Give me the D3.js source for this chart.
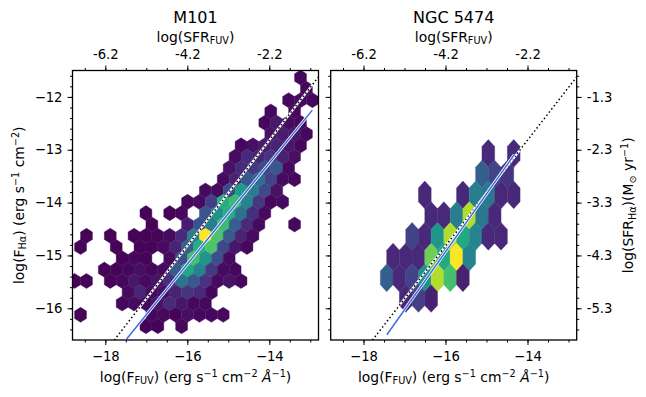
<!DOCTYPE html>
<html>
<head>
<meta charset="utf-8">
<script src="https://cdn.jsdelivr.net/npm/d3@7"></script>
<style>
  html, body { margin: 0; padding: 0; background: #fff; }
  svg { display: block; }
  text { font-family: "DejaVu Sans", sans-serif; fill: #000; }
  .axis text { font-size: 13.2px; }
  .lab { font-size: 13.9px; }
  .sub { font-size: 9.7px; }
</style>
</head>
<body>
<svg id="chart" width="646" height="397"></svg>
<script>
// hexbin cells: each row is [first column, counts...], 0 = empty cell (counts on a 0-100 scale)
const m101Rows = [
  [19, 2],
  [19, 2],
  [18, 2, 3, 2],
  [16, 2, 0, 2],
  [16, 2, 7, 3, 2],
  [16, 5, 8, 6, 2],
  [14, 2, 4, 8, 10, 6, 2],
  [13, 3, 12, 10, 15, 9, 4],
  [13, 4, 12, 16, 22, 27, 3],
  [12, 3, 10, 27, 36, 20, 3, 2],
  [11, 3, 3, 22, 55, 42, 22, 5],
  [9, 2, 3, 18, 62, 68, 45, 16, 2, 3],
  [6, 1, 0, 1, 2, 0, 25, 50, 62, 38, 14, 3],
  [6, 1, 0, 0, 8, 25, 42, 68, 30, 12, 3, 0, 0, 2],
  [1, 1, 0, 1, 0, 1, 1, 1, 3, 12, 42, 100, 72, 28, 10, 3],
  [0, 1, 0, 0, 1, 0, 1, 1, 3, 10, 30, 62, 72, 22, 6, 2],
  [4, 1, 2, 1, 0, 3, 24, 70, 52, 24, 3],
  [2, 1, 1, 2, 4, 2, 3, 28, 60, 45, 17, 3, 2],
  [0, 1, 1, 0, 1, 2, 6, 3, 5, 14, 38, 28, 15, 3, 5, 2],
  [4, 3, 10, 3, 4, 10, 15, 12, 2],
  [4, 2, 3, 2, 5, 12, 6, 2, 2],
  [0, 1, 0, 0, 0, 0, 0, 2, 2, 1, 4, 2, 2, 2],
  [6, 1, 1, 0, 2]
];
const ngcRows = [
  [8, 12, 0, 12],
  [7, 30, 20, 15],
  [3, 11, 0, 0, 11, 42, 40, 11, 11],
  [3, 11, 11, 42, 88, 40, 11],
  [2, 20, 11, 52, 88, 60, 45, 11, 11],
  [0, 11, 11, 11, 78, 60, 100, 45],
  [0, 30, 11, 20, 50, 88, 70, 9],
  [1, 11, 18, 9]
];

// hexbin lattice, in data units
const m101Grid = { x0: -18.749, xStep: 0.29, y0: -11.634, yStep: 0.2138 };
const ngcGrid = { x0: -17.434, xStep: 0.3098, y0: -13.068, yStep: 0.3925 };

// dotted 1:1 relation and the two fitted lines
const unityX = [-18.8, -12.8];
const unityY = [-17.62, -11.62];
const m101FitX = [-17.48, -12.95];
const m101FitY = [-16.58, -12.25];
const ngcFitX = [-17.43, -14.32];
const ngcFitY = [-16.5, -13.09];

const fuvTicks = [-18, -16, -14];
const fuvMinor = d3.range(-18.5, -12.8, 0.5);
const haTicks = [-12, -13, -14, -15, -16];
const haMinor = d3.range(-16.4, -11.5, 0.2);
const sfrFuvTicks = [-6.2, -4.2, -2.2];
const sfrHaTicks = [-1.3, -2.3, -3.3, -4.3, -5.3];

const xDomain = [-18.8, -12.8];
const yDomain = [-16.6, -11.5];
const sfrFuvOffset = 11.8;
const sfrHaOffset = 10.7;

const plotTop = 70.5, plotBottom = 340;
const svg = d3.select('#chart');

const y = d3.scaleLinear().domain(yDomain).range([plotBottom, plotTop]);
const ySfr = d3.scaleLinear().domain(yDomain.map(d => d + sfrHaOffset)).range([plotBottom, plotTop]);
const color = c => d3.interpolateViridis(c / 100);

function minus(v) {
  return String(v).replace('-', '\u2212');
}

// label with sub/superscripts: parts are [text, 'sub' | 'sup' | 'it' | undefined]
function richText(sel, parts) {
  let shift = 0;
  parts.forEach(([txt, kind]) => {
    const want = kind === 'sub' ? 2.5 : kind === 'sup' ? -5 : 0;
    const t = sel.append('tspan').attr('dy', want - shift).text(txt);
    if (kind === 'sub' || kind === 'sup') t.attr('class', 'sub');
    if (kind === 'it') t.style('font-style', 'italic');
    shift = want;
  });
  return sel;
}

const fuvLabel = [['log(F'], ['FUV', 'sub'], [') (erg s'], ['\u22121', 'sup'], [' cm'], ['\u22122', 'sup'],
  [' '], ['\u00c5', 'it'], ['\u22121', 'sup'], [')']];
const haLabel = [['log(F'], ['H\u03b1', 'sub'], [') (erg s'], ['\u22121', 'sup'], [' cm'], ['\u22122', 'sup'], [')']];
const sfrLabel = [['log(SFR'], ['H\u03b1', 'sub'], [')(M'], ['\u2299', 'sub'], [' yr'], ['\u22121', 'sup'], [')']];

function drawPanel(left, right, rows, grid, fitX, fitY, title) {
  const x = d3.scaleLinear().domain(xDomain).range([left, right]);
  const xSfr = d3.scaleLinear().domain(xDomain.map(d => d + sfrFuvOffset)).range([left, right]);
  const g = svg.append('g');

  const clipId = 'clip' + Math.round(left);
  svg.append('clipPath').attr('id', clipId)
    .append('rect').attr('x', left).attr('y', plotTop)
    .attr('width', right - left).attr('height', plotBottom - plotTop);

  const cells = [];
  rows.forEach((row, r) => {
    row.slice(1).forEach((count, i) => {
      if (!count) return;
      cells.push({
        cx: grid.x0 + (row[0] + i) * grid.xStep + (r % 2 ? grid.xStep / 2 : 0),
        cy: grid.y0 - r * grid.yStep,
        count
      });
    });
  });

  const hw = grid.xStep / 2, rad = grid.yStep * 2 / 3;
  const hexPath = d3.line().x(p => x(p[0])).y(p => y(p[1]));
  const plot = g.append('g').attr('clip-path', `url(#${clipId})`);

  plot.selectAll('path.hex')
    .data(cells)
    .join('path')
    .attr('class', 'hex')
    .attr('d', d => hexPath([
      [d.cx, d.cy + rad], [d.cx + hw, d.cy + rad / 2], [d.cx + hw, d.cy - rad / 2],
      [d.cx, d.cy - rad], [d.cx - hw, d.cy - rad / 2], [d.cx - hw, d.cy + rad / 2]
    ]) + 'Z')
    .attr('fill', d => color(d.count))
    .attr('stroke', d => color(d.count))
    .attr('stroke-width', 0.4);

  const seg = d3.line().x(p => x(p[0])).y(p => y(p[1]));
  const unity = seg(unityX.map((v, i) => [v, unityY[i]]));
  const fit = seg(fitX.map((v, i) => [v, fitY[i]]));

  plot.append('path').attr('d', unity).attr('fill', 'none')
    .attr('stroke', '#fff').attr('stroke-width', 2.2);
  plot.append('path').attr('d', unity).attr('fill', 'none')
    .attr('stroke', '#000').attr('stroke-width', 1.5).attr('stroke-dasharray', '1.5 2.5');
  plot.append('path').attr('d', fit).attr('fill', 'none')
    .attr('stroke', '#fff').attr('stroke-width', 3);
  plot.append('path').attr('d', fit).attr('fill', 'none')
    .attr('stroke', '#4169e1').attr('stroke-width', 1.5);

  // Axes
  const major = 5, minor = 2.5;
  const ax = (axis, tx, ty) => g.append('g').attr('class', 'axis')
    .attr('transform', `translate(${tx},${ty})`).call(axis)
    .call(s => s.select('.domain').remove())
    .call(s => s.selectAll('line').attr('stroke', '#000').attr('stroke-width', 1));

  ax(d3.axisBottom(x).tickValues(fuvMinor).tickSize(minor).tickFormat(''), 0, plotBottom);
  ax(d3.axisTop(x).tickValues(fuvMinor).tickSize(minor).tickFormat(''), 0, plotTop);
  ax(d3.axisBottom(x).tickValues(fuvTicks).tickSize(major).tickPadding(7).tickFormat(minus), 0, plotBottom);
  ax(d3.axisTop(xSfr).tickValues(sfrFuvTicks).tickSize(major).tickPadding(7).tickFormat(v => v.toFixed(1)), 0, plotTop);
  ax(d3.axisLeft(y).tickValues(haMinor).tickSize(minor).tickFormat(''), left, 0);
  ax(d3.axisLeft(y).tickValues(haTicks).tickSize(major).tickPadding(5)
    .tickFormat(left < 100 ? minus : ''), left, 0);

  g.append('rect').attr('x', left).attr('y', plotTop)
    .attr('width', right - left).attr('height', plotBottom - plotTop)
    .attr('fill', 'none').attr('stroke', '#000').attr('stroke-width', 1.3);

  g.append('text').attr('x', (left + right) / 2).attr('y', 22.5)
    .attr('text-anchor', 'middle').style('font-size', '16px').text(title);

  g.append('text').attr('class', 'lab').attr('x', (left + right) / 2).attr('y', 41.5)
    .attr('text-anchor', 'middle')
    .call(richText, [['log(SFR'], ['FUV', 'sub'], [')']]);

  g.append('text').attr('class', 'lab').attr('x', (left + right) / 2).attr('y', 381.5)
    .attr('text-anchor', 'middle')
    .call(richText, fuvLabel);

  return { x, g };
}

drawPanel(72.5, 318.5, m101Rows, m101Grid, m101FitX, m101FitY, 'M101');
const rightEdge = 576.7;
const rightPanel = drawPanel(330.7, rightEdge, ngcRows, ngcGrid, ngcFitX, ngcFitY, 'NGC 5474');

// right hand axis of the second panel
rightPanel.g.append('g').attr('class', 'axis').attr('transform', `translate(${rightEdge},0)`)
  .call(d3.axisRight(y).tickValues(haMinor).tickSize(2.5).tickFormat(''))
  .call(s => s.select('.domain').remove());
rightPanel.g.append('g').attr('class', 'axis').attr('transform', `translate(${rightEdge},0)`)
  .call(d3.axisRight(ySfr).tickValues(sfrHaTicks).tickSize(5).tickPadding(5).tickFormat(v => v.toFixed(1)))
  .call(s => s.select('.domain').remove());

svg.append('text').attr('class', 'lab')
  .attr('transform', `translate(23.5,${(plotTop + plotBottom) / 2}) rotate(-90)`)
  .attr('text-anchor', 'middle')
  .call(richText, haLabel);

svg.append('text').attr('class', 'lab')
  .attr('transform', `translate(633,${(plotTop + plotBottom) / 2}) rotate(-90)`)
  .attr('text-anchor', 'middle')
  .call(richText, sfrLabel);
</script>
</body>
</html>
